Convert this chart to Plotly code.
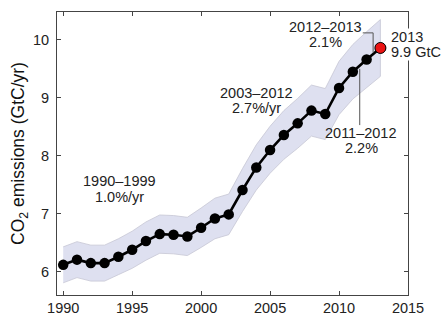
import plotly.graph_objects as go

# Global fossil CO2 emissions (GtC/yr)
years = list(range(1990, 2014))
emissions = [6.12, 6.21, 6.15, 6.15, 6.26, 6.38, 6.53, 6.65, 6.64, 6.61,
             6.76, 6.92, 6.99, 7.41, 7.80, 8.10, 8.36, 8.56, 8.78, 8.72,
             9.17, 9.45, 9.66, 9.86]
# uncertainty envelope (about ±5 %)
band_hi = [6.43, 6.52, 6.46, 6.46, 6.57, 6.70, 6.86, 6.98, 6.97, 6.94,
           7.10, 7.27, 7.34, 7.78, 8.19, 8.51, 8.78, 8.99, 9.22, 9.16,
           9.63, 9.92, 10.14, 10.35]
band_lo = [5.81, 5.90, 5.84, 5.84, 5.95, 6.06, 6.20, 6.32, 6.31, 6.28,
           6.42, 6.57, 6.64, 7.04, 7.41, 7.70, 7.94, 8.13, 8.34, 8.28,
           8.71, 8.98, 9.18, 9.37]

x_ticks = [1990, 1995, 2000, 2005, 2010, 2015]
y_ticks = [6, 7, 8, 9, 10]

FONT = "Liberation Sans, Arial, sans-serif"

fig = go.Figure()

fig.add_trace(go.Scatter(
    x=years + years[::-1], y=band_hi + band_lo[::-1],
    fill="toself", fillcolor="rgb(222,224,240)",
    line=dict(color="rgb(198,198,212)", width=0.8),
    mode="lines", hoverinfo="skip", showlegend=False))

fig.add_trace(go.Scatter(
    x=years, y=emissions, mode="lines+markers",
    line=dict(color="black", width=2.6),
    marker=dict(color="black", size=10.5),
    showlegend=False))

fig.add_trace(go.Scatter(
    x=[years[-1]], y=[emissions[-1]], mode="markers",
    marker=dict(color="rgb(235,20,20)", size=11,
                line=dict(color="black", width=1)),
    showlegend=False))

txt = dict(family=FONT, size=14.5, color="#222")


def label(x, y, text, **kw):
    fig.add_annotation(x=x, y=y, text=text, showarrow=False, font=txt, **kw)


# period growth-rate labels (one annotation per line for tight spacing)
label(1994.1, 7.566, "1990–1999")
label(1994.1, 7.29, "1.0%/yr")
label(2004.0, 9.083, "2003–2012")
label(2004.0, 8.825, "2.7%/yr")
label(2009.05, 10.22, "2012–2013")
label(2009.05, 9.963, "2.1%")
label(2011.6, 8.394, "2011–2012")
label(2011.6, 8.135, "2.2%")
label(2013.72, 10.05, "2013", xanchor="left", bgcolor="white", borderpad=0)
label(2013.72, 9.79, "9.9 GtC", xanchor="left", bgcolor="white", borderpad=0)

# leader lines
lc = dict(color="#555", width=1)
fig.add_shape(type="line", x0=2011.72, y0=10.12, x1=2012.47, y1=10.12, line=lc)
fig.add_shape(type="line", x0=2012.47, y0=10.12, x1=2012.47, y1=9.78, line=lc)
fig.add_shape(type="line", x0=2011.5, y0=9.5, x1=2011.5, y1=8.53, line=lc)

axis_common = dict(showline=True, linecolor="#444", linewidth=1, mirror="ticks",
                   ticks="inside", ticklen=4, tickcolor="#444", showgrid=False,
                   zeroline=False, tickfont=dict(family=FONT, size=14.5, color="#222"))

fig.update_xaxes(range=[1989.55, 2015], tickvals=x_ticks, **axis_common)
fig.update_yaxes(range=[5.6, 10.48], tickvals=y_ticks, ticklabelstandoff=4,
                 title=dict(text="CO<sub>2</sub> emissions (GtC/yr)",
                            font=dict(family=FONT, size=17.5, color="#111"),
                            standoff=3),
                 **axis_common)

fig.update_layout(width=448, height=329,
                  margin=dict(l=57, r=40, t=12, b=34),
                  paper_bgcolor="white", plot_bgcolor="white")

fig.write_html("out.html")
